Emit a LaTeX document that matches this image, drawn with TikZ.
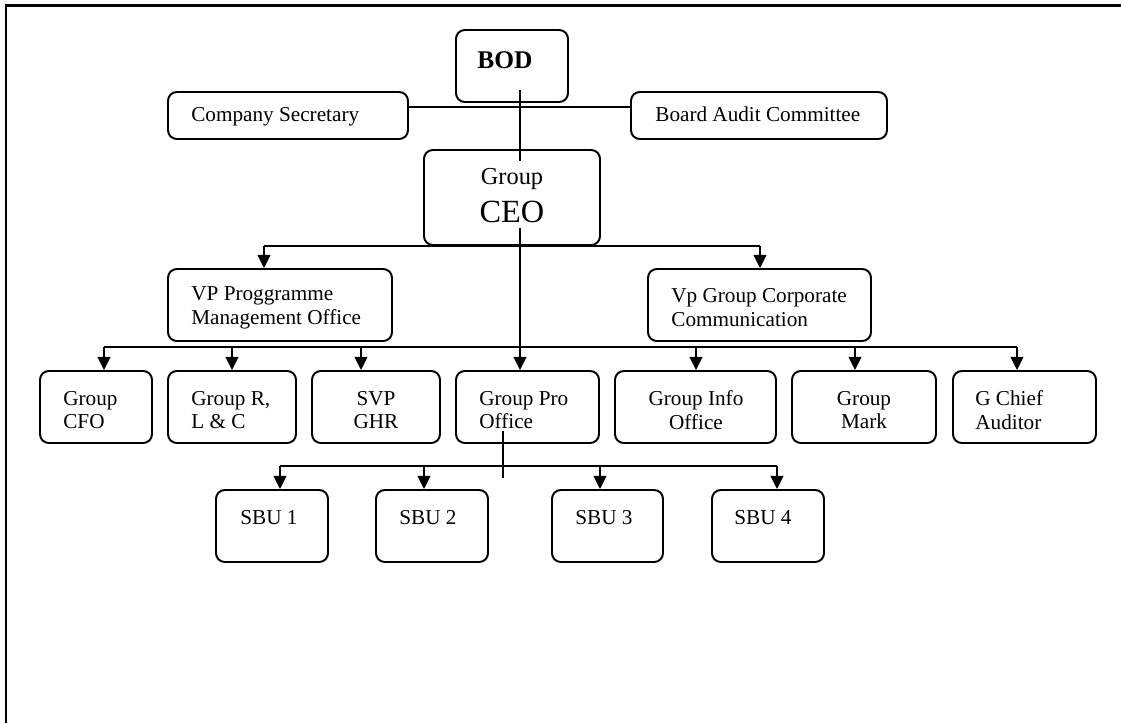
\documentclass[tikz,border=0pt]{standalone}
\usepackage{fontspec}
\setmainfont{Liberation Serif}
\usetikzlibrary{arrows.meta,calc,fit}
\begin{document}
\begin{tikzpicture}[x=0.566pt,y=-0.566pt,
  box/.style={draw,line width=1.1pt,rounded corners=5pt,inner sep=0pt},
  txt/.style={inner sep=0pt,font=\fontsize{12}{13.5}\selectfont},
  lt/.style={txt,anchor=west,align=left},
  bt/.style={txt,anchor=base west},
  ct/.style={txt,align=center},
  link/.style={line width=1.1pt},
  arr/.style={link,-{Triangle[length=7.4pt,width=7.2pt]}},
  frameline/.style={line width=1.2pt}]
\useasboundingbox (0,0) rectangle (1121,723);
% outer frame
\draw[frameline] (1121,5.5) -- (6,5.5) -- (6,723);

% boxes
\node[box,fit={(456,30)(568,102)}] (bod) {};
\node[box,fit={(168,92)(408,139)}] (cs) {};
\node[box,fit={(631,92)(887,139)}] (bac) {};
\node[box,fit={(424,150)(600,245)}] (ceo) {};
\node[box,fit={(168,269)(392,341)}] (vpl) {};
\node[box,fit={(648,269)(871,341)}] (vpr) {};
\node[box,fit={(40,371)(152,443)}] (cfo) {};
\node[box,fit={(168,371)(296,443)}] (rlc) {};
\node[box,fit={(312,371)(440,443)}] (svp) {};
\node[box,fit={(456,371)(599,443)}] (pro) {};
\node[box,fit={(615,371)(776,443)}] (info) {};
\node[box,fit={(792,371)(936,443)}] (mark) {};
\node[box,fit={(953,371)(1096,443)}] (chief) {};
\node[box,fit={(216,490)(328,562)}] (sbu1) {};
\node[box,fit={(376,490)(488,562)}] (sbu2) {};
\node[box,fit={(552,490)(663,562)}] (sbu3) {};
\node[box,fit={(712,490)(824,562)}] (sbu4) {};

% texts
\node[txt,font=\fontsize{14.4}{16}\selectfont\bfseries] (bodt) at (505,60) {BOD};
\node[bt] (cst) at (191,121) {Company Secretary};
\node[bt] (bact) at (655,121) {Board Audit Committee};
\node[txt,font=\fontsize{13.8}{16}\selectfont] (ceot1) at (512,179) {Group};
\node[txt,font=\fontsize{18.3}{20}\selectfont] (ceot2) at (512,212) {CEO};
\node[lt] (vplt) at (191,307.5) {VP Proggramme\\Management Office};
\node[lt] (vprt) at (671,307.5) {Vp Group Corporate\\Communication};
\node[lt] (cfot) at (63,410) {Group\\CFO};
\node[lt] (rlct) at (191,410) {Group R,\\L \& C};
\node[ct] (svpt) at (376,410) {SVP\\GHR};
\node[lt] (prot) at (479,410) {Group Pro\\Office};
\node[ct] (infot) at (696,410) {Group Info\\Office};
\node[ct] (markt) at (864,410) {Group\\Mark};
\node[lt] (chieft) at (975,410) {G Chief\\Auditor};
\node[bt] (sbu1t) at (240,524) {SBU 1};
\node[bt] (sbu2t) at (399,524) {SBU 2};
\node[bt] (sbu3t) at (575,524) {SBU 3};
\node[bt] (sbu4t) at (734,524) {SBU 4};

% connectors
\coordinate (spine) at (520,0);
\coordinate (hy) at (0,107);
\draw[link] ($(bod.south -| spine)+(0,-13)$) -- ($(ceo.north -| spine)+(0,12)$);
\draw[link] (cs.east |- hy) -- (bac.west |- hy);
\draw[arr] ($(ceo.south -| spine)+(0,-18)$) -- (pro.north -| spine);

\coordinate (v1) at (264,0);
\coordinate (v2) at (760,0);
\draw[link] (ceo.south -| v1) -- (ceo.south -| v2);
\draw[arr] (ceo.south -| v1) -- (vpl.north -| v1);
\draw[arr] (ceo.south -| v2) -- (vpr.north -| v2);

\coordinate (a1) at (104,347);
\coordinate (a2) at (232,347);
\coordinate (a3) at (361,347);
\coordinate (a4) at (696,347);
\coordinate (a5) at (855,347);
\coordinate (a6) at (1017,347);
\draw[link] (a1) -- (a6);
\draw[arr] (a1) -- (a1 |- cfo.north);
\draw[arr] (a2) -- (a2 |- rlc.north);
\draw[arr] (a3) -- (a3 |- svp.north);
\draw[arr] (a4) -- (a4 |- info.north);
\draw[arr] (a5) -- (a5 |- mark.north);
\draw[arr] (a6) -- (a6 |- chief.north);

\coordinate (pdrop) at (503,478);
\draw[link] ($(pro.south -| pdrop)+(0,-13)$) -- (pdrop);
\coordinate (s1) at (280,466);
\coordinate (s2) at (424,466);
\coordinate (s3) at (600,466);
\coordinate (s4) at (777,466);
\draw[link] (s1) -- (s4);
\draw[arr] (s1) -- (s1 |- sbu1.north);
\draw[arr] (s2) -- (s2 |- sbu2.north);
\draw[arr] (s3) -- (s3 |- sbu3.north);
\draw[arr] (s4) -- (s4 |- sbu4.north);
\end{tikzpicture}
\end{document}
